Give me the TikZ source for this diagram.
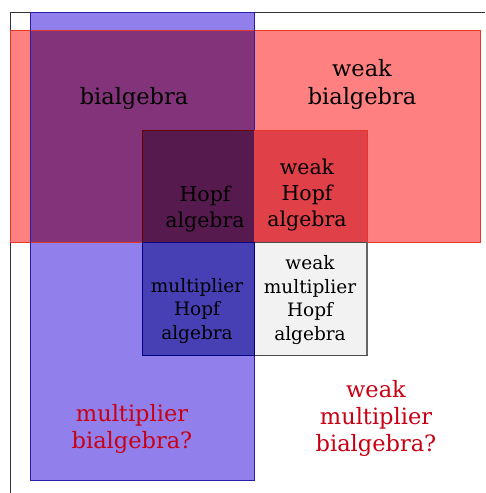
\documentclass[tikz,border=0pt]{standalone}
\usepackage{fontspec}
\setmainfont{DejaVu Serif}
\definecolor{redonly}{RGB}{255,128,128}
\definecolor{blueonly}{RGB}{145,128,236}
\definecolor{bothbr}{RGB}{131,51,121}
\definecolor{hopfc}{RGB}{87,26,78}
\definecolor{weakhopfc}{RGB}{224,64,72}
\definecolor{multhopfc}{RGB}{70,64,180}
\definecolor{wmhc}{RGB}{242,242,242}
\definecolor{redline}{RGB}{226,56,40}
\definecolor{blueline}{RGB}{40,30,170}
\definecolor{qtext}{RGB}{200,0,20}
\tikzset{
  outer/.style={align=center,font=\fontsize{22.5}{28}\selectfont},
  big/.style={align=center,font=\fontsize{20.5}{26}\selectfont},
  small/.style={align=center,font=\fontsize{18.5}{23.5}\selectfont},
  query/.style={align=center,text=qtext,font=\fontsize{22.5}{26.5}\selectfont},
}
\begin{document}
\begin{tikzpicture}[x=1pt,y=-1pt]
\useasboundingbox (0,0) rectangle (485,493);
% outer frame
\draw[line width=0.8pt,black!80] (10,493) -- (10,12) -- (485,12);
% bialgebra (red) and multiplier (blue) regions
\fill[redonly] (10,30) rectangle (480,242);
\fill[blueonly] (30,12) rectangle (254,480);
\fill[bothbr] (30,30) rectangle (254,242);
\draw[redline,line width=0.8pt] (10,30) rectangle (480,242);
\draw[blueline,line width=0.8pt] (30,12) rectangle (254,480);
% Hopf cells
\fill[hopfc] (142,130) rectangle (254,242);
\fill[weakhopfc] (254,130) rectangle (367,242);
\fill[multhopfc] (142,242) rectangle (254,355);
\fill[wmhc] (254,242) rectangle (367,355);
\draw[line width=0.8pt,black!70] (254,242) rectangle (367,355);
\draw[line width=1.2pt,black!60] (367,242) -- (367,355);
\draw[line width=0.8pt,redline] (254,130) -- (367,130) -- (367,242);
\draw[line width=0.8pt,black!60!red] (142,242) -- (142,130) -- (254,130);
\draw[line width=0.8pt,blue!50!black] (142,242) rectangle (254,355);
% labels
\node[outer] (bi) at (134,98) {bialgebra};
\node[outer] (wbi) at (362,84) {weak\\bialgebra};
\node[big] (hopf) at (205,209) {Hopf\\algebra};
\node[big] (whopf) at (307,195) {weak\\Hopf\\algebra};
\node[small] (mhopf) at (197,311) {multiplier\\Hopf\\algebra};
\node[small] (wmhopf) at (310,300) {weak\\multiplier\\Hopf\\algebra};
\node[query] (mbi) at (132,429) {multiplier\\bialgebra?};
\node[query,font=\fontsize{22.5}{27}\selectfont] (wmbi) at (376,418) {weak\\multiplier\\bialgebra?};
\end{tikzpicture}
\end{document}
